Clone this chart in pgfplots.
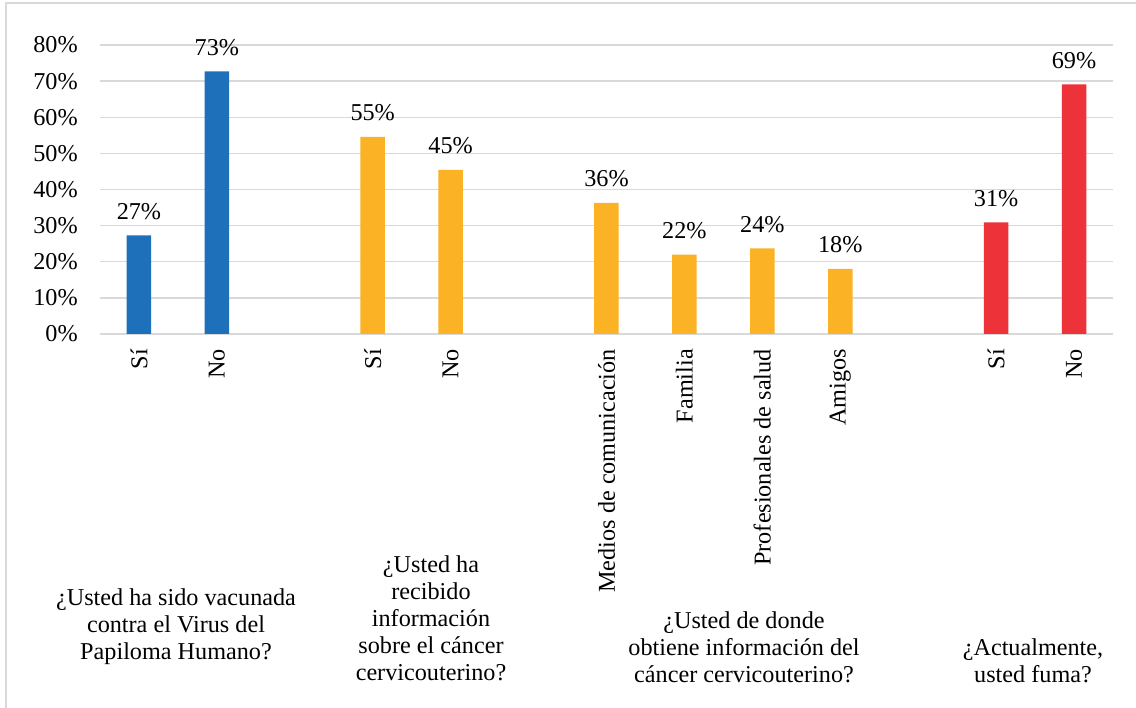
\documentclass[border=0pt]{standalone}
\usepackage{pgfplots}
\pgfplotsset{compat=1.18}
\usepackage{fontspec}
\setmainfont{Liberation Serif}
\definecolor{cblue}{RGB}{31,112,187}
\definecolor{cyellow}{RGB}{251,178,36}
\definecolor{cred}{RGB}{238,50,57}
\definecolor{cgrid}{RGB}{217,217,217}
\newcommand\cf{\fontsize{24.2}{27}\selectfont}
\pgfplotsset{/pgf/number format/assume math mode=true}
\begin{document}
\cf
\begin{tikzpicture}[x=1pt,y=1pt]
\useasboundingbox (0,0) rectangle (1136,708);
\draw[cgrid, line width=2pt] (6,0) -- (6,705) -- (1136,705);
\begin{axis}[
  at={(100pt,374pt)}, anchor=south west,
  scale only axis, width=1013pt, height=289pt,
  xmin=-0.5, xmax=12.5, ymin=0, ymax=80,
  ytick={0,10,...,80},
  xtick={0,1,3,4,6,7,8,9,11,12},
  xticklabels={Sí,No,Sí,No,Medios de comunicación,Familia,Profesionales de salud,Amigos,Sí,No},
  axis line style={draw=none},
  major tick length=0pt, tick style={draw=none},
  ymajorgrids, major grid style={cgrid, line width=1.4pt},
  yticklabel={\pgfmathprintnumber{\tick}\%},
  yticklabel style={font=\cf, xshift=-14pt},
  xticklabel style={font=\cf, yshift=-7pt, rotate=90, anchor=east},
  ybar, bar width=24.5pt, bar shift=0pt,
  clip=false,
  nodes near coords={\pgfmathprintnumber[fixed,precision=0]{\pgfplotspointmeta}\%},
  every node near coord/.append style={font=\cf, anchor=base, yshift=16pt, text=black},
]
\addplot[fill=cblue, draw=none] coordinates {(0,27.3) (1,72.7)};
\addplot[fill=cyellow, draw=none] coordinates {(3,54.6) (4,45.4) (6,36.3) (7,22.0) (8,23.7) (9,18.0)};
\addplot[fill=cred, draw=none] coordinates {(11,30.9) (12,69.1)};
\end{axis}
\node[align=center, inner sep=0pt, font=\cf] at (176,81) {¿Usted ha sido vacunada\\contra el Virus del\\Papiloma Humano?};
\node[align=center, inner sep=0pt, font=\cf] at (431,90) {¿Usted ha\\recibido\\información\\sobre el cáncer\\cervicouterino?};
\node[align=center, inner sep=0pt, font=\cf] at (744,61) {¿Usted de donde\\obtiene información del\\cáncer cervicouterino?};
\node[align=center, inner sep=0pt, font=\cf] at (1033,47) {¿Actualmente,\\usted fuma?};
\end{tikzpicture}
\end{document}
